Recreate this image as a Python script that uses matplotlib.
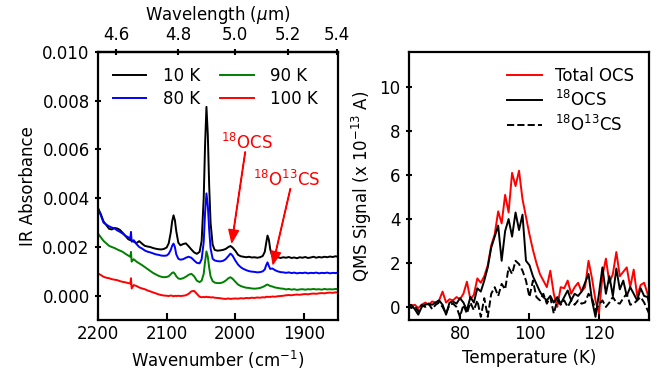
"""IR spectra of 18OCS ice at several temperatures and the matching QMS desorption trace."""

import matplotlib
matplotlib.use("Agg")
import matplotlib.pyplot as plt
import numpy as np

# ---- left panel: IR absorbance (values in 1e-3 units) ----
wavenumber = [
    2200, 2196, 2192, 2188, 2184, 2180, 2176, 2172, 2168, 2164,
    2160, 2156, 2153, 2152, 2151, 2148, 2144, 2140, 2136, 2132,
    2128, 2124, 2120, 2116, 2112, 2108, 2104, 2100, 2097, 2094,
    2092, 2090, 2088, 2086, 2083, 2080, 2076, 2072, 2068, 2064,
    2060, 2056, 2052, 2049, 2046, 2044, 2042, 2040, 2038, 2036,
    2033, 2030, 2026, 2022, 2018, 2014, 2010, 2007, 2004, 2000,
    1996, 1992, 1988, 1984, 1980, 1976, 1972, 1968, 1964, 1960,
    1957, 1955, 1953, 1951, 1949, 1946, 1942, 1938, 1934, 1930,
    1926, 1922, 1918, 1914, 1910, 1906, 1902, 1898, 1894, 1890,
    1886, 1882, 1878, 1874, 1870, 1866, 1862, 1858, 1854, 1850,
]

abs_10K = [
    3.58, 3.35, 3.05, 2.90, 2.75, 2.72, 2.78, 2.76, 2.70, 2.58,
    2.45, 2.32, 2.28, 2.30, 2.26, 2.22, 2.16, 2.24, 2.14, 2.05,
    2.02, 2.00, 1.96, 1.93, 1.91, 1.90, 1.92, 1.98, 2.15, 2.60,
    3.05, 3.30, 3.10, 2.65, 2.18, 2.07, 2.12, 2.15, 2.03, 1.90,
    1.78, 1.72, 1.80, 2.25, 4.00, 6.20, 7.75, 6.60, 4.50, 3.00,
    2.10, 1.88, 1.85, 1.86, 1.88, 1.92, 2.00, 2.04, 1.98, 1.85,
    1.68, 1.62, 1.60, 1.58, 1.60, 1.57, 1.58, 1.56, 1.58, 1.63,
    1.80, 2.15, 2.47, 2.30, 1.90, 1.62, 1.56, 1.58, 1.55, 1.58,
    1.56, 1.59, 1.55, 1.57, 1.54, 1.58, 1.56, 1.59, 1.55, 1.57,
    1.60, 1.56, 1.59, 1.57, 1.60, 1.58, 1.61, 1.59, 1.62, 1.60,
]
abs_80K = [
    3.60, 3.30, 3.00, 2.92, 2.85, 2.80, 2.76, 2.68, 2.62, 2.55,
    2.46, 2.40, 2.36, 2.62, 2.22, 2.28, 2.12, 2.00, 1.94, 1.86,
    1.81, 1.78, 1.74, 1.70, 1.68, 1.65, 1.64, 1.65, 1.72, 1.88,
    2.05, 2.14, 2.00, 1.70, 1.52, 1.48, 1.50, 1.56, 1.60, 1.56,
    1.45, 1.35, 1.33, 1.50, 2.20, 3.40, 4.20, 3.70, 2.70, 1.95,
    1.52, 1.45, 1.42, 1.41, 1.43, 1.50, 1.63, 1.73, 1.65, 1.45,
    1.28, 1.17, 1.10, 1.05, 1.01, 0.99, 0.98, 0.96, 0.97, 1.00,
    1.08, 1.25, 1.37, 1.22, 1.10, 1.12, 1.05, 1.00, 0.97, 0.96,
    0.94, 0.96, 0.93, 0.95, 0.92, 0.94, 0.93, 0.95, 0.92, 0.94,
    0.93, 0.95, 0.92, 0.94, 0.93, 0.95, 0.92, 0.94, 0.93, 0.95,
]
abs_90K = [
    2.55, 2.40, 2.25, 2.15, 2.05, 2.00, 1.96, 1.90, 1.85, 1.80,
    1.72, 1.65, 1.60, 1.80, 1.40, 1.50, 1.40, 1.33, 1.26, 1.18,
    1.10, 1.02, 0.94, 0.88, 0.82, 0.78, 0.76, 0.77, 0.80, 0.88,
    0.94, 0.96, 0.90, 0.80, 0.71, 0.69, 0.72, 0.78, 0.86, 0.90,
    0.80, 0.62, 0.56, 0.62, 0.90, 1.40, 1.82, 1.60, 1.15, 0.80,
    0.60, 0.54, 0.52, 0.52, 0.55, 0.62, 0.72, 0.76, 0.70, 0.58,
    0.46, 0.40, 0.36, 0.33, 0.32, 0.30, 0.29, 0.30, 0.32, 0.36,
    0.40, 0.44, 0.46, 0.43, 0.40, 0.38, 0.34, 0.32, 0.30, 0.29,
    0.26, 0.28, 0.25, 0.27, 0.24, 0.26, 0.27, 0.25, 0.27, 0.26,
    0.28, 0.26, 0.27, 0.25, 0.28, 0.26, 0.27, 0.26, 0.28, 0.27,
]
abs_100K = [
    0.92, 0.85, 0.78, 0.74, 0.72, 0.68, 0.66, 0.64, 0.60, 0.57,
    0.55, 0.52, 0.50, 0.72, 0.30, 0.44, 0.40, 0.34, 0.30, 0.27,
    0.22, 0.18, 0.14, 0.10, 0.06, 0.03, 0.01, 0.00, -0.01, 0.01,
    0.00, -0.02, 0.00, -0.01, 0.00, -0.01, 0.00, 0.02, 0.08, 0.18,
    0.20, 0.08, -0.04, -0.06, -0.05, -0.06, -0.04, -0.06, -0.05, -0.07,
    -0.06, -0.08, -0.09, -0.10, -0.12, -0.13, -0.11, -0.13, -0.12, -0.11,
    -0.12, -0.10, -0.11, -0.09, -0.10, -0.08, -0.09, -0.07, -0.08, -0.06,
    -0.07, -0.04, -0.05, -0.04, -0.05, -0.03, -0.04, -0.02, -0.01, 0.00,
    0.02, 0.03, 0.02, 0.04, 0.05, 0.04, 0.06, 0.07, 0.06, 0.08,
    0.09, 0.08, 0.10, 0.11, 0.10, 0.12, 0.13, 0.12, 0.14, 0.14,
]
ir_labels = ["10 K", "80 K", "90 K", "100 K"]
ir_colors = ["black", "blue", "green", "red"]

# ---- right panel: QMS signal (x 1e-13 A), 65-135 K ----
temperature = list(range(65, 136))
qms_total = [
    0.15, 0.05, 0.10, -0.05, 0.10, 0.20, 0.10, 0.25, 0.20, 0.30,
    0.70, 0.20, 0.35, 0.30, 0.45, 0.35, 0.60, 1.15, 0.35, 0.55,
    1.30, 1.10, 1.40, 1.90, 2.80, 3.30, 4.35, 3.80, 5.10, 4.30,
    6.10, 5.50, 6.20, 4.90, 4.10, 3.30, 2.60, 2.00, 1.50, 1.20,
    0.90, 1.65, 0.60, 0.00, 0.90, 0.85, 1.20, 0.60, 0.90, 1.10,
    0.70, 0.90, 2.10, 1.30, 0.30, -0.30, 1.40, 2.20, 1.10, 1.50,
    2.50, 1.40, 1.60, 1.80, 0.90, 1.70, 0.50, 1.00, 1.10, 0.60,
    0.00,
]
qms_18ocs = [
    0.00, 0.10, -0.10, -0.35, 0.00, 0.10, 0.15, 0.10, 0.20, 0.30,
    0.10, -0.35, 0.20, 0.25, 0.15, 0.40, 0.20, -0.15, 0.45, 0.20,
    0.85, 0.70, 1.20, 1.80, 2.70, 3.20, 3.70, 2.10, 3.45, 4.00,
    3.20, 4.30, 3.50, 4.20, 2.10, 1.90, 1.40, 1.05, 0.70, 0.45,
    0.30, 0.50, 0.20, 0.45, 0.15, 0.45, 0.75, 0.30, 0.60, 0.50,
    0.70, 1.10, 1.50, 0.30, -0.45, 0.60, 1.80, 0.60, 1.40, 0.50,
    1.75, 0.80, 1.20, 0.50, 0.90, 0.60, 0.30, 0.85, 0.50, 0.45,
    -0.30,
]
qms_18o13cs = [
    0.10, -0.05, 0.05, -0.20, 0.10, 0.00, 0.15, -0.10, 0.10, 0.20,
    0.00, -0.30, 0.10, 0.15, 0.00, -0.45, 0.10, -0.30, 0.20, -0.15,
    0.30, -0.45, 0.40, -0.45, 0.60, 0.90, 0.50, 1.05, 0.80, 1.80,
    1.50, 2.10, 1.95, 1.65, 1.20, 0.45, 1.20, 0.45, 0.30, 0.60,
    0.15, 0.45, -0.30, 0.30, 0.10, 0.30, 0.00, 0.30, 0.10, 0.30,
    0.15, 0.20, 0.60, 0.40, -0.15, 0.10, 0.30, 0.00, 0.20, 0.45,
    0.20, 0.15, 0.40, 0.60, 0.10, 0.15, 0.30, 0.45, 0.20, -0.15,
    -0.50,
]

plt.rcParams.update({
    "font.size": 12,
    "axes.linewidth": 1.6,
    "xtick.major.width": 1.5,
    "ytick.major.width": 1.5,
    "xtick.major.size": 5,
    "ytick.major.size": 5,
})

fig = plt.figure(figsize=(6.67, 3.74), dpi=100)
ax1 = fig.add_axes([0.147, 0.144, 0.360, 0.717])
ax2 = fig.add_axes([0.613, 0.144, 0.360, 0.717])

# IR spectra
wn = np.array(wavenumber)
for vals, lab, col in zip([abs_10K, abs_80K, abs_90K, abs_100K], ir_labels, ir_colors):
    ax1.plot(wn, np.array(vals) * 1e-3, color=col, lw=1.4, label=lab)

ax1.set_xlim(2200, 1850)
ax1.set_ylim(-0.001, 0.010)
ax1.set_yticks([0.0, 0.002, 0.004, 0.006, 0.008, 0.010])
ax1.set_xticks([2200, 2100, 2000, 1900])
ax1.set_xlabel("Wavenumber (cm$^{-1}$)")
ax1.set_ylabel("IR Absorbance")
ax1.tick_params(axis="x", direction="in")
ax1.tick_params(axis="y", direction="inout")
ax1.legend(ncol=2, loc="upper left", frameon=False, handlelength=2.0,
           columnspacing=1.2, borderaxespad=0.5, labelspacing=0.3,
           handletextpad=1.0)

top = ax1.secondary_xaxis("top", functions=(lambda x: 1e4 / x, lambda x: 1e4 / x))
top.set_xticks([4.6, 4.8, 5.0, 5.2, 5.4])
top.set_xlabel("Wavelength ($\\mu$m)")
top.tick_params(direction="inout")

# peak labels with arrows
ax1.text(1983, 0.00626, "$^{18}$OCS", color="red", ha="center", va="center")
ax1.annotate("", xy=(2005, 0.00219), xytext=(1985.5, 0.0059),
             arrowprops=dict(color="red", width=0.4, headwidth=7, headlength=9, shrink=0.0))
ax1.text(1924.5, 0.00477, "$^{18}$O$^{13}$CS", color="red", ha="center", va="center")
ax1.annotate("", xy=(1945, 0.0013), xytext=(1919.7, 0.00439),
             arrowprops=dict(color="red", width=0.4, headwidth=7, headlength=9, shrink=0.0))

# QMS desorption
ax2.plot(temperature, qms_total, color="red", lw=1.4, label="Total OCS")
ax2.plot(temperature, qms_18ocs, color="black", lw=1.4, label="$^{18}$OCS")
ax2.plot(temperature, qms_18o13cs, color="black", lw=1.4, ls="--", label="$^{18}$O$^{13}$CS")
ax2.set_xlim(65.3, 134.4)
ax2.set_ylim(-0.6, 11.6)
ax2.set_yticks([0, 2, 4, 6, 8, 10])
ax2.set_xticks([80, 100, 120])
ax2.set_xlabel("Temperature (K)")
ax2.set_ylabel("QMS Signal (x 10$^{-13}$ A)")
ax2.tick_params(axis="x", direction="in")
ax2.tick_params(axis="y", direction="inout")
ax2.legend(loc="upper right", frameon=False, handlelength=2.1, labelspacing=0.3)

fig.savefig("out.png", dpi=100)
plt.close(fig)
